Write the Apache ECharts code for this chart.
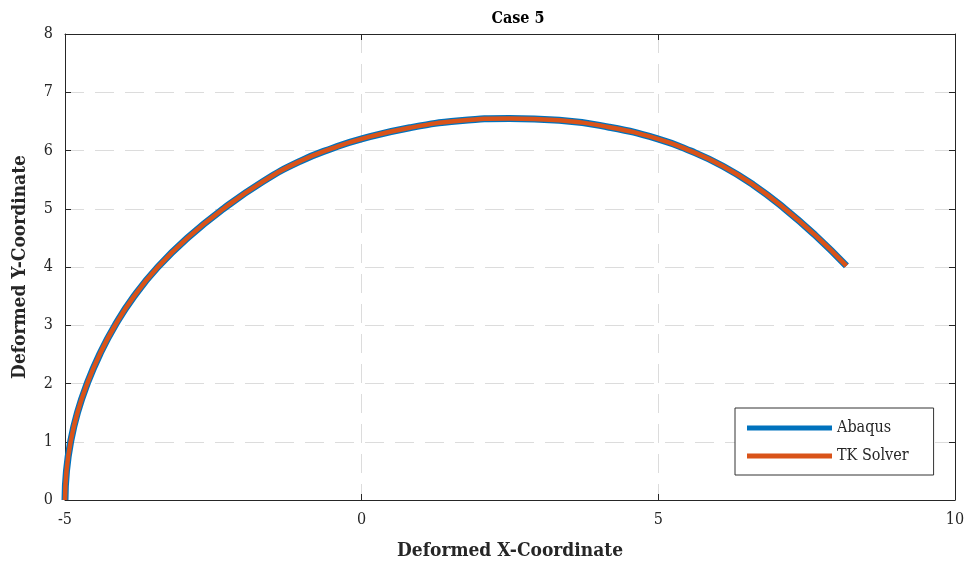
<!DOCTYPE html>
<html>
<head>
    <meta charset="utf-8">
    <script src="https://cdn.jsdelivr.net/npm/echarts@6/dist/echarts.min.js"></script>
    <style>
        *{
            margin:0;
            padding:0;
        }
    </style>
</head>
<body>
    <div id="main" style="width: 971px;height:569px;"></div>
    <script type="text/javascript">

    // values
    var abaqusX = [-5, -4.975, -4.905, -4.79, -4.625, -4.415, -4.155, -3.835, -3.435, -2.935, -2.33, -1.66, -1.05, -0.49, 0, 0.81, 1.65, 2.49, 3.33, 4.17, 4.99, 5.55, 6.09, 6.6, 7.12, 7.64, 8.17];
    var abaqusY = [0, 0.5, 1.0, 1.5, 2.0, 2.5, 3.0, 3.5, 4.0, 4.5, 5.0, 5.47, 5.81, 6.04, 6.2, 6.39, 6.51, 6.55, 6.52, 6.4, 6.2, 5.99, 5.73, 5.41, 5.01, 4.55, 4.02];
    var tkX = [-5, -4.975, -4.905, -4.79, -4.625, -4.415, -4.155, -3.835, -3.435, -2.935, -2.33, -1.66, -1.05, -0.49, 0, 0.81, 1.65, 2.49, 3.33, 4.17, 4.99, 5.55, 6.09, 6.6, 7.12, 7.64, 8.17];
    var tkY = [0, 0.5, 1.0, 1.5, 2.0, 2.5, 3.0, 3.5, 4.0, 4.5, 5.0, 5.47, 5.81, 6.04, 6.2, 6.39, 6.51, 6.55, 6.52, 6.4, 6.2, 5.99, 5.73, 5.41, 5.01, 4.55, 4.02];
    var seriesNames = ['Abaqus', 'TK Solver'];

    function pairs(xs, ys) {
        return xs.map(function (x, i) { return [x, ys[i]]; });
    }

    var font = 'DejaVu Serif Condensed';
    var axisColor = '#262626';
    var gridLine = { show: true, lineStyle: { color: '#dcdcdc', type: [19, 11], width: 1 } };

    var myChart = echarts.init(document.getElementById('main'));

    myChart.setOption({
        animation: false,
        title: {
            text: 'Case 5',
            left: 513,
            top: 6,
            textAlign: 'center',
            textStyle: { fontFamily: font, fontSize: 16, fontWeight: 'bold', color: '#000' }
        },
        grid: { left: 65, right: 16, top: 34, bottom: 69 },
        legend: {
            data: seriesNames,
            left: 735,
            top: 408,
            orient: 'vertical',
            icon: 'rect',
            itemWidth: 85,
            itemHeight: 5,
            itemGap: 12,
            padding: [12, 25, 11, 12],
            borderColor: '#333',
            borderWidth: 1,
            backgroundColor: '#fff',
            textStyle: { fontFamily: font, fontSize: 16, color: '#262626' }
        },
        xAxis: [{
            type: 'value',
            min: -5,
            max: 10,
            interval: 5,
            name: 'Deformed X-Coordinate',
            nameLocation: 'middle',
            nameGap: 42,
            nameTextStyle: { fontFamily: font, fontSize: 19, fontWeight: 'bold', color: '#262626' },
            axisLine: { onZero: false, lineStyle: { color: axisColor } },
            axisTick: { inside: true, length: 6, lineStyle: { color: axisColor } },
            axisLabel: { fontFamily: font, fontSize: 16, color: '#262626', margin: 12 },
            splitLine: gridLine
        }, {
            type: 'value',
            position: 'top',
            min: -5,
            max: 10,
            interval: 5,
            axisLine: { onZero: false, lineStyle: { color: axisColor } },
            axisTick: { inside: true, length: 6, lineStyle: { color: axisColor } },
            axisLabel: { show: false },
            splitLine: { show: false }
        }],
        yAxis: [{
            type: 'value',
            min: 0,
            max: 8,
            interval: 1,
            name: 'Deformed Y-Coordinate',
            nameLocation: 'middle',
            nameGap: 35,
            nameTextStyle: { fontFamily: font, fontSize: 19, fontWeight: 'bold', color: '#262626' },
            axisLine: { show: true, onZero: false, lineStyle: { color: axisColor } },
            axisTick: { show: true, inside: true, length: 6, lineStyle: { color: axisColor } },
            axisLabel: { fontFamily: font, fontSize: 16, color: '#262626', margin: 12 },
            splitLine: gridLine
        }, {
            type: 'value',
            position: 'right',
            min: 0,
            max: 8,
            interval: 1,
            axisLine: { show: true, onZero: false, lineStyle: { color: axisColor } },
            axisTick: { show: true, inside: true, length: 6, lineStyle: { color: axisColor } },
            axisLabel: { show: false },
            splitLine: { show: false }
        }],
        series: [
            {
                name: seriesNames[0],
                type: 'line',
                smooth: 0.5,
                showSymbol: false,
                color: '#0072BD',
                lineStyle: { width: 7, color: '#0072BD' },
                data: pairs(abaqusX, abaqusY)
            },
            {
                name: seriesNames[1],
                type: 'line',
                smooth: 0.5,
                showSymbol: false,
                color: '#D95319',
                lineStyle: { width: 4.5, color: '#D95319' },
                data: pairs(tkX, tkY)
            }
        ]
    });
</script>
</body>
</html>
